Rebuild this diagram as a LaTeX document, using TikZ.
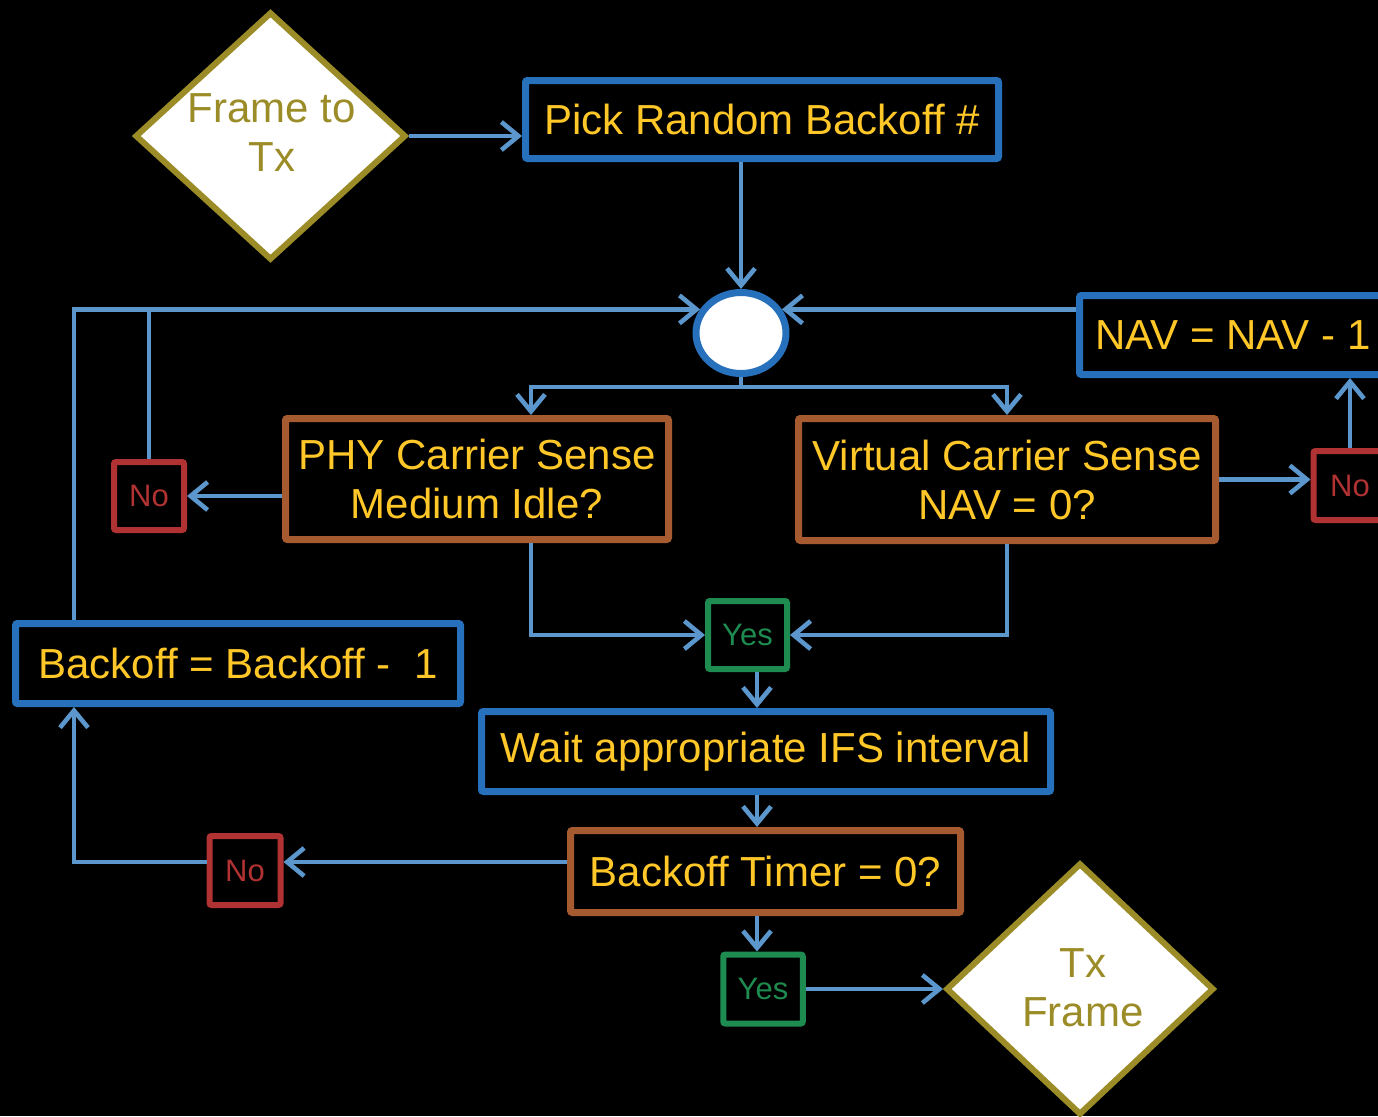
\documentclass[tikz,border=0pt]{standalone}
\usepackage{fontspec}
\setmainfont{Liberation Sans}
\usetikzlibrary{arrows.meta,shapes.geometric}
\definecolor{boxblue}{RGB}{38,112,188}
\definecolor{lnblue}{RGB}{91,150,204}
\definecolor{ylw}{RGB}{255,200,40}
\definecolor{boxorange}{RGB}{166,90,48}
\definecolor{nored}{RGB}{176,50,50}
\definecolor{yesgreen}{RGB}{30,140,80}
\definecolor{dolive}{RGB}{155,140,40}
\newcommand\bigtxt{\fontsize{21}{24.5}\selectfont}
\newcommand\smalltxt{\fontsize{15.5}{18}\selectfont}
\tikzset{
  bx/.style={draw, line width=3.5pt, rounded corners=1pt, inner sep=0pt, text=ylw, font=\bigtxt, align=center},
  bluebox/.style={bx, draw=boxblue},
  orbox/.style={bx, draw=boxorange},
  nobox/.style={draw=nored, line width=3pt, rounded corners=1pt, inner sep=0pt, text=nored, font=\smalltxt},
  yesbox/.style={draw=yesgreen, line width=3pt, rounded corners=1pt, inner sep=0pt, text=yesgreen, font=\smalltxt},
  dia/.style={diamond, draw=dolive, fill=white, line width=3pt, inner sep=0pt},
  ditext/.style={text=dolive, align=center, font=\bigtxt, inner sep=0pt},
  conn/.style={draw=lnblue, line width=2.3pt},
  arr/.style={conn, -{Straight Barb[length=8.5pt,width=14pt]}},
}
\begin{document}
\begin{tikzpicture}[x=0.5pt,y=-0.5pt]
\fill[black] (0,0) rectangle (1378,1116);
\useasboundingbox (0,0) rectangle (1378,1116);
\clip (0,0) rectangle (1378,1116);
% helper coordinates
\coordinate (lx) at (74,0);
\coordinate (px) at (531,0);
\coordinate (vx) at (757,0);
\coordinate (split) at (741,387);
\coordinate (ny) at (0,862);
% nodes
\node[dia, minimum width=135.5pt, minimum height=124pt] (frame) at (270.5,136) {};
\node[ditext] (frametxt) at (272,133) {Frame to\\Tx};
\node[bluebox, minimum width=236.5pt, minimum height=39pt] (pick) at (762,119.5) {Pick Random Backoff \#};
\node[ellipse, draw=boxblue, fill=white, line width=3.5pt, inner sep=0pt, minimum width=45pt, minimum height=40.5pt] (hub) at (741,333) {};
\node[bluebox, minimum width=153.5pt, minimum height=39.5pt] (nav) at (1233,335) {NAV = NAV - 1};
\node[orbox, minimum width=191.5pt, minimum height=60.5pt] (phy) at (477,479) {PHY Carrier Sense\\Medium Idle?};
\node[orbox, minimum width=208.5pt, minimum height=61pt] (virt) at (1007,479.5) {Virtual Carrier Sense\\NAV = 0?};
\node[nobox, minimum width=35pt, minimum height=34pt] (no1) at (149,496) {No};
\node[nobox, minimum width=36.5pt, minimum height=34.5pt] (no2) at (1350,485.5) {No};
\node[yesbox, minimum width=39.5pt, minimum height=34pt] (yes1) at (747.5,635) {Yes};
\node[bluebox, minimum width=222.5pt, minimum height=40pt] (bk) at (238,663.5) {Backoff = Backoff -\ \ 1};
\node[bluebox, minimum width=284.5pt, minimum height=40pt] (wait) at (766,751.5) {Wait appropriate IFS interval};
\node[orbox, minimum width=195pt, minimum height=41pt] (bt) at (765.5,871.5) {Backoff Timer = 0?};
\node[nobox, minimum width=35.5pt, minimum height=34.5pt] (no3) at (245,870.5) {No};
\node[yesbox, minimum width=39.75pt, minimum height=34.5pt] (yes2) at (763,989) {Yes};
\node[dia, minimum width=134pt, minimum height=126pt] (tx) at (1080,989) {};
\node[ditext] (txtxt) at (1083,988) {Tx\\Frame};
% connectors
\draw[arr] (frame.east) -- (frame.east -| pick.west);
\draw[arr] (pick.south -| hub.north) -- (hub.north);
\draw[arr] (hub.30 -| nav.west) -- (hub.30);
\draw[arr] (lx |- bk.north) -- (lx |- hub.150) -- (hub.150);
\draw[conn] (no1.north) -- (no1.north |- hub.150);
\draw[conn] (hub.south) -- (split);
\draw[arr] (split) -- (px |- split) -- (px |- phy.north);
\draw[arr] (split) -- (virt.north |- split) -- (virt.north);
\draw[arr] (no1.east -| phy.west) -- (no1.east);
\draw[arr] (virt.east) -- (virt.east -| no2.west);
\draw[arr] (no2.north) -- (no2.north |- nav.south);
\draw[arr] (px |- phy.south) -- (px |- yes1.west) -- (yes1.west);
\draw[arr] (virt.south) -- (virt.south |- yes1.east) -- (yes1.east);
\draw[arr] (vx |- yes1.south) -- (vx |- wait.north);
\draw[arr] (vx |- wait.south) -- (vx |- bt.north);
\draw[arr] (ny -| bt.west) -- (ny -| no3.east);
\draw[arr] (ny -| no3.west) -- (ny -| lx) -- (lx |- bk.south);
\draw[arr] (vx |- bt.south) -- (vx |- yes2.north);
\draw[arr] (yes2.east) -- (yes2.east -| tx.west);
\end{tikzpicture}
\end{document}
